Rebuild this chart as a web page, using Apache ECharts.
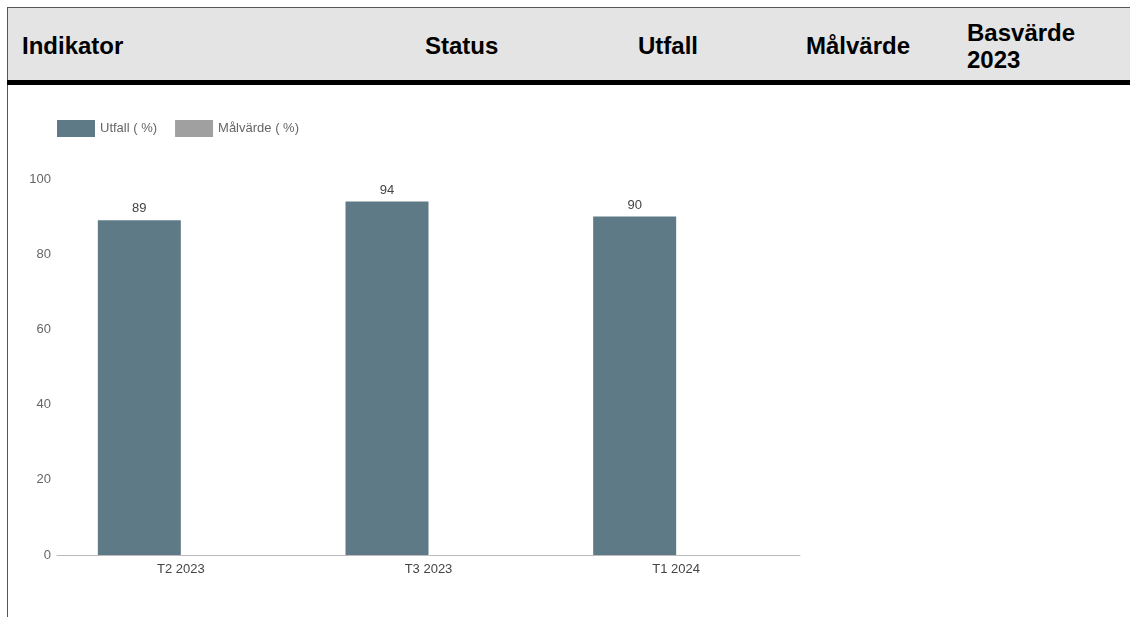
<!DOCTYPE html>
<html>
<head>
<meta charset="utf-8">
<script src="https://cdn.jsdelivr.net/npm/echarts@6/dist/echarts.min.js"></script>
<style>
  html, body { margin:0; padding:0; width:1130px; height:617px; overflow:hidden; background:#fff; font-family:"Liberation Sans", Arial, sans-serif; }
  #header { position:absolute; left:7px; top:7px; width:1123px; height:73px; background:#e4e4e4; border-top:1px solid #555; border-left:1px solid #555; box-sizing:border-box; }
  #bar { position:absolute; left:7px; top:80px; width:1123px; height:5px; background:#000; }
  #lborder { position:absolute; left:7px; top:85px; width:1px; height:532px; background:#555; }
  .h { position:absolute; font-weight:bold; font-size:24px; color:#000; line-height:24px; white-space:nowrap; }
  #chart { position:absolute; left:0; top:0; width:1130px; height:617px; }
</style>
</head>
<body>
<div id="header"></div>
<div id="bar"></div>
<div id="lborder"></div>
<div class="h" style="left:22px; top:34px;">Indikator</div>
<div class="h" style="left:425px; top:34px;">Status</div>
<div class="h" style="left:638px; top:34px;">Utfall</div>
<div class="h" style="left:806px; top:34px;">Målvärde</div>
<div class="h" style="left:967px; top:19px; line-height:27px;">Basvärde<br>2023</div>
<div id="chart"></div>
<script>
const categories = ["T2 2023", "T3 2023", "T1 2024"];
const utfall = [89, 94, 90];
const malvarde = [null, null, null];
const seriesNames = ["Utfall ( %)", "Målvärde ( %)"];

const chart = echarts.init(document.getElementById('chart'), null, {renderer:'canvas'});
chart.setOption({
  animation: false,
  textStyle: { fontFamily: '"Liberation Sans", Arial, sans-serif' },
  legend: {
    left: 57, top: 120, padding: 0,
    itemWidth: 38, itemHeight: 17, itemGap: 18,
    icon: 'rect',
    textStyle: { color: '#666', fontSize: 13 },
    data: seriesNames
  },
  grid: { left: 57, right: 330, top: 179, bottom: 62, containLabel: false },
  xAxis: {
    type: 'category',
    data: categories,
    axisLine: { lineStyle: { color: '#bbb' } },
    axisTick: { show: false },
    axisLabel: { color: '#444', fontSize: 13, margin: 8 }
  },
  yAxis: {
    type: 'value', min: 0, max: 100, interval: 20,
    axisLine: { show: false },
    axisTick: { show: false },
    splitLine: { show: false },
    axisLabel: { color: '#666', fontSize: 13, margin: 6 }
  },
  series: [
    {
      name: seriesNames[0], type: 'bar', data: utfall,
      barWidth: 83, barGap: '0%',
      itemStyle: { color: '#5f7a87' },
      label: { show: true, position: 'top', color: '#444', fontSize: 13, distance: 5 }
    },
    {
      name: seriesNames[1], type: 'bar', data: malvarde,
      barWidth: 83,
      itemStyle: { color: '#a0a0a0' }
    }
  ]
});
</script>
</body>
</html>
